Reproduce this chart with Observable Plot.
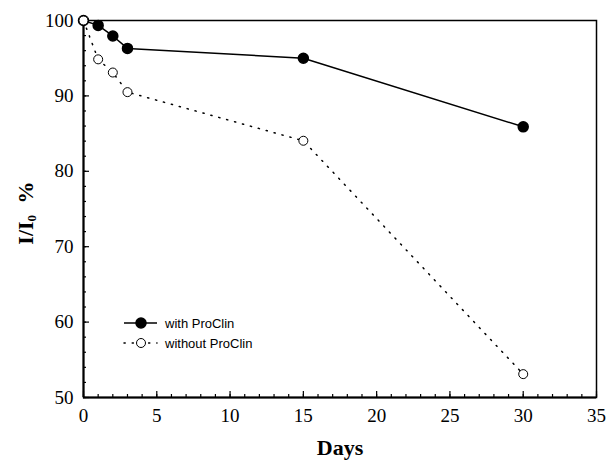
<!DOCTYPE html>
<html><head><meta charset="utf-8">
<script src="https://cdn.jsdelivr.net/npm/d3@7"></script>
<script src="https://cdn.jsdelivr.net/npm/@observablehq/plot@0.6"></script>
<style>body{margin:0;background:#fff} svg{display:block}</style>
</head><body><div id="chart"></div>
<script>
const days = [0, 1, 2, 3, 15, 30];
const withProClin = [100, 99.35, 97.95, 96.3, 95.0, 85.9];
const withoutProClin = [100, 94.85, 93.1, 90.5, 84.05, 53.1];
const xTicks = [0, 5, 10, 15, 20, 25, 30, 35];
const xMinor = d3.range(0, 36, 1);
const yTicks = [50, 60, 70, 80, 90, 100];
const yMinor = d3.range(50, 101, 2);
const seriesNames = ["with ProClin", "without ProClin"];

const dataWith = days.map((d, i) => ({x: d, y: withProClin[i]}));
const dataWithout = days.map((d, i) => ({x: d, y: withoutProClin[i]}));
const serif = "'Liberation Serif', 'Times New Roman', serif";
const blank = () => "";

const plot = Plot.plot({
  width: 606, height: 465,
  marginLeft: 83, marginRight: 10, marginTop: 20, marginBottom: 68,
  style: {fontFamily: serif, fontSize: "19px", color: "#000", background: "#fff"},
  x: {domain: [0, 35]},
  y: {domain: [50, 100]},
  marks: [
    Plot.frame({stroke: "#000", strokeWidth: 1.5}),
    Plot.axisX(xMinor, {tickSize: -3, tickFormat: blank, label: null, strokeWidth: 1.2}),
    Plot.axisX(xTicks, {tickSize: -6, tickFormat: blank, label: null, strokeWidth: 1.2}),
    Plot.axisY(yMinor, {tickSize: -3, tickFormat: blank, label: null, strokeWidth: 1.2}),
    Plot.axisY(yTicks, {tickSize: -6, tickFormat: blank, label: null, strokeWidth: 1.2}),
    Plot.text(xTicks, {x: d => d, text: d => String(d), frameAnchor: "bottom", dy: 24, fontSize: 19, fontFamily: serif, fill: "#000"}),
    Plot.text(yTicks, {y: d => d, text: d => String(d), frameAnchor: "left", textAnchor: "end", dx: -10, fontSize: 19, fontFamily: serif, fill: "#000"}),
    Plot.ruleX([0], {stroke: "#000", strokeWidth: 2}),
    Plot.ruleY([50], {stroke: "#000", strokeWidth: 2}),
    Plot.line(dataWithout, {x: "x", y: "y", stroke: "#000", strokeWidth: 1.5, strokeDasharray: "1.2,7", strokeLinecap: "round"}),
    Plot.line(dataWith, {x: "x", y: "y", stroke: "#000", strokeWidth: 1.5}),
    Plot.dot(dataWith, {x: "x", y: "y", r: 5, fill: "#000", stroke: "#000"}),
    Plot.dot(dataWithout, {x: "x", y: "y", r: 4.5, fill: "#fff", stroke: "#000", strokeWidth: 1}),
    Plot.text(["Days"], {frameAnchor: "bottom", dy: 57, fontWeight: "bold", fontSize: 22, fontFamily: serif, fill: "#000"})
  ]
});
document.getElementById("chart").appendChild(plot);

const svg = d3.select(plot);
// Y axis label with subscript
const yl = svg.append("text")
  .attr("transform", "translate(33,213) rotate(-90)")
  .attr("text-anchor", "middle")
  .style("font-family", serif).style("font-size", "22px").style("font-weight", "bold").attr("fill", "#000");
yl.append("tspan").text("I/I");
yl.append("tspan").style("font-size", "13px").attr("dy", 3).text("0");
yl.append("tspan").attr("dy", -3).attr("dx", 6).text(" %");

// Legend
const lg = svg.append("g").style("font-family", "'Liberation Sans', Arial, sans-serif").style("font-size", "13px").attr("fill", "#000").attr("text-anchor", "start");
const rows = [
  {name: seriesNames[0], y: 323, dash: null, fill: "#000", r: 5, sw: 1.5},
  {name: seriesNames[1], y: 343, dash: "1.2,7", fill: "#fff", r: 4.5, sw: 1}
];
rows.forEach(r => {
  lg.append("line").attr("x1", 124).attr("x2", 157).attr("y1", r.y).attr("y2", r.y)
    .attr("stroke", "#000").attr("stroke-width", 1.5).attr("stroke-dasharray", r.dash).attr("stroke-linecap", r.dash ? "round" : null);
  lg.append("circle").attr("cx", 141).attr("cy", r.y).attr("r", r.r).attr("fill", r.fill).attr("stroke", "#000").attr("stroke-width", r.sw);
  lg.append("text").attr("x", 165).attr("y", r.y).attr("dy", "0.35em").attr("text-anchor", "start").text(r.name);
});
</script></body></html>
